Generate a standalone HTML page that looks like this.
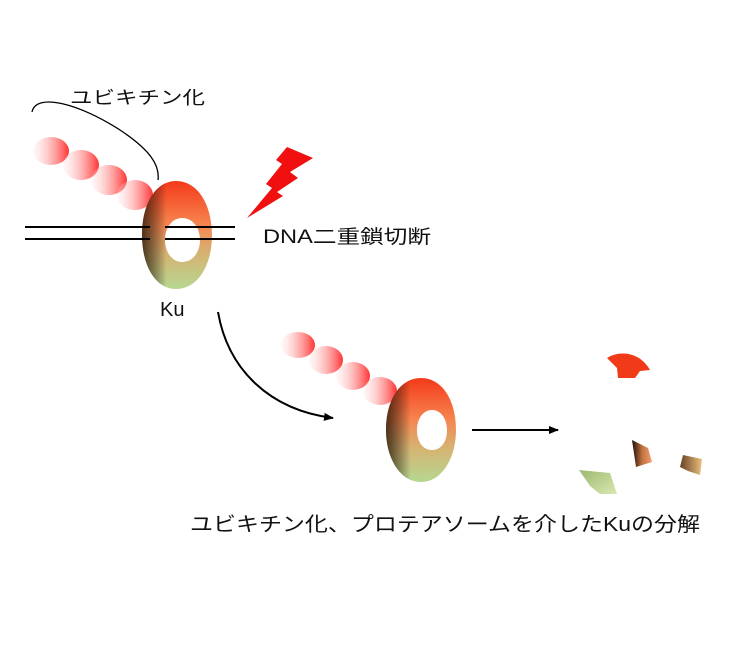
<!DOCTYPE html>
<html><head><meta charset="utf-8"><style>
body{margin:0;background:#fff}
svg{display:block}
text{font-family:"Liberation Sans","Noto Sans CJK JP",sans-serif;fill:#111}
</style></head><body>
<svg width="740" height="649" viewBox="0 0 740 649" xmlns="http://www.w3.org/2000/svg">
<defs>
<linearGradient id="bead" x1="0" y1="0" x2="1" y2="0">
<stop offset="0" stop-color="#fdd" stop-opacity="0.2"/>
<stop offset="1" stop-color="#f33"/>
</linearGradient>
<linearGradient id="ring" x1="0" y1="0" x2="0" y2="1">
<stop offset="0" stop-color="#f43a1a"/>
<stop offset="0.4" stop-color="#f6854f"/>
<stop offset="0.65" stop-color="#d8b070"/>
<stop offset="1" stop-color="#b5d890"/>
</linearGradient>
<linearGradient id="shade" x1="0" y1="0" x2="1" y2="0">
<stop offset="0" stop-color="#2a1a0a" stop-opacity="0.8"/>
<stop offset="0.35" stop-color="#000" stop-opacity="0"/>
</linearGradient>
<linearGradient id="green" x1="0" y1="0" x2="1" y2="1">
<stop offset="0" stop-color="#9cb870"/><stop offset="1" stop-color="#d8e8b0"/>
</linearGradient>
<linearGradient id="brown" x1="0" y1="0" x2="1" y2="0">
<stop offset="0" stop-color="#1a0e05"/><stop offset="0.5" stop-color="#c07040"/><stop offset="1" stop-color="#f5a070"/>
</linearGradient>
<linearGradient id="tan" x1="0" y1="0" x2="1" y2="0">
<stop offset="0" stop-color="#6a4020"/><stop offset="1" stop-color="#e8c080"/>
</linearGradient>
<marker id="ah" markerWidth="10" markerHeight="8" refX="9" refY="4" orient="auto" markerUnits="userSpaceOnUse">
<path d="M0,0 L10,4 L0,8 Z" fill="#000"/>
</marker>
</defs>

<text x="70" y="104" font-size="18" textLength="135" lengthAdjust="spacingAndGlyphs">ユビキチン化</text>
<path d="M32,112 C36,92 80,104 120,130 C150,150 160,165 158,180" fill="none" stroke="#000" stroke-width="1.3"/>

<ellipse cx="51" cy="151" rx="18" ry="14" fill="url(#bead)"/>
<ellipse cx="81" cy="165" rx="18" ry="15" fill="url(#bead)"/>
<ellipse cx="109" cy="180" rx="18" ry="15" fill="url(#bead)"/>
<ellipse cx="135" cy="195" rx="18" ry="15" fill="url(#bead)"/>

<line x1="25" y1="227" x2="235" y2="227" stroke="#000" stroke-width="2"/>
<line x1="25" y1="239" x2="235" y2="239" stroke="#000" stroke-width="2"/>

<path fill-rule="evenodd" fill="url(#ring)" d="M176,181 C198,181 212,205 212,235 C212,265 198,289 176,289 C155,289 142,265 142,235 C142,205 155,181 176,181 Z M182,218 C172,218 165,228 165,240 C165,252 172,262 182,262 C193,262 200,252 200,240 C200,228 193,218 182,218 Z"/>
<path fill-rule="evenodd" fill="url(#shade)" d="M176,181 C198,181 212,205 212,235 C212,265 198,289 176,289 C155,289 142,265 142,235 C142,205 155,181 176,181 Z M182,218 C172,218 165,228 165,240 C165,252 172,262 182,262 C193,262 200,252 200,240 C200,228 193,218 182,218 Z"/>
<line x1="165" y1="227" x2="235" y2="227" stroke="#000" stroke-width="2"/>
<line x1="165" y1="239" x2="235" y2="239" stroke="#000" stroke-width="2"/>
<line x1="142" y1="227" x2="150" y2="227" stroke="#000" stroke-width="2"/>
<line x1="142" y1="239" x2="150" y2="239" stroke="#000" stroke-width="2"/>

<polygon points="287,147 313,158 290,172 298,178 277,192 283,196 247,218 272,188 266,184 282,164 276,160" fill="#f01010"/>

<text x="263" y="243" font-size="19" textLength="168" lengthAdjust="spacingAndGlyphs">DNA二重鎖切断</text>
<text x="160" y="316" font-size="20">Ku</text>

<path d="M218,312 C228,370 270,410 333,418" fill="none" stroke="#000" stroke-width="2" marker-end="url(#ah)"/>

<ellipse cx="298" cy="345" rx="17" ry="13" fill="url(#bead)"/>
<ellipse cx="326" cy="360" rx="17" ry="14" fill="url(#bead)"/>
<ellipse cx="353" cy="376" rx="17" ry="14" fill="url(#bead)"/>
<ellipse cx="380" cy="391" rx="17" ry="14" fill="url(#bead)"/>

<path fill-rule="evenodd" fill="url(#ring)" d="M421,378 C442,378 456,400 456,430 C456,458 442,482 421,482 C400,482 386,458 386,430 C386,400 400,378 421,378 Z M432,410 C423,410 417,419 417,430 C417,442 423,450 432,450 C441,450 447,442 447,430 C447,419 441,410 432,410 Z"/>
<path fill-rule="evenodd" fill="url(#shade)" d="M421,378 C442,378 456,400 456,430 C456,458 442,482 421,482 C400,482 386,458 386,430 C386,400 400,378 421,378 Z M432,410 C423,410 417,419 417,430 C417,442 423,450 432,450 C441,450 447,442 447,430 C447,419 441,410 432,410 Z"/>

<line x1="472" y1="430" x2="558" y2="430" stroke="#000" stroke-width="2" marker-end="url(#ah)"/>

<path d="M607,358 C620,350 640,352 650,370 L640,371 L635,378 L618,378 L617,368 Z" fill="#f03a18"/>
<path d="M632,440 L648,448 L652,462 L636,467 Z" fill="url(#brown)"/>
<path d="M683,455 L702,459 L700,475 L688,471 L680,467 Z" fill="url(#tan)"/>
<path d="M579,470 L610,473 L617,494 L600,494 L590,486 Z" fill="url(#green)"/>

<text x="190" y="531" font-size="20" textLength="510" lengthAdjust="spacingAndGlyphs">ユビキチン化、プロテアソームを介したKuの分解</text>
</svg>
</body></html>
